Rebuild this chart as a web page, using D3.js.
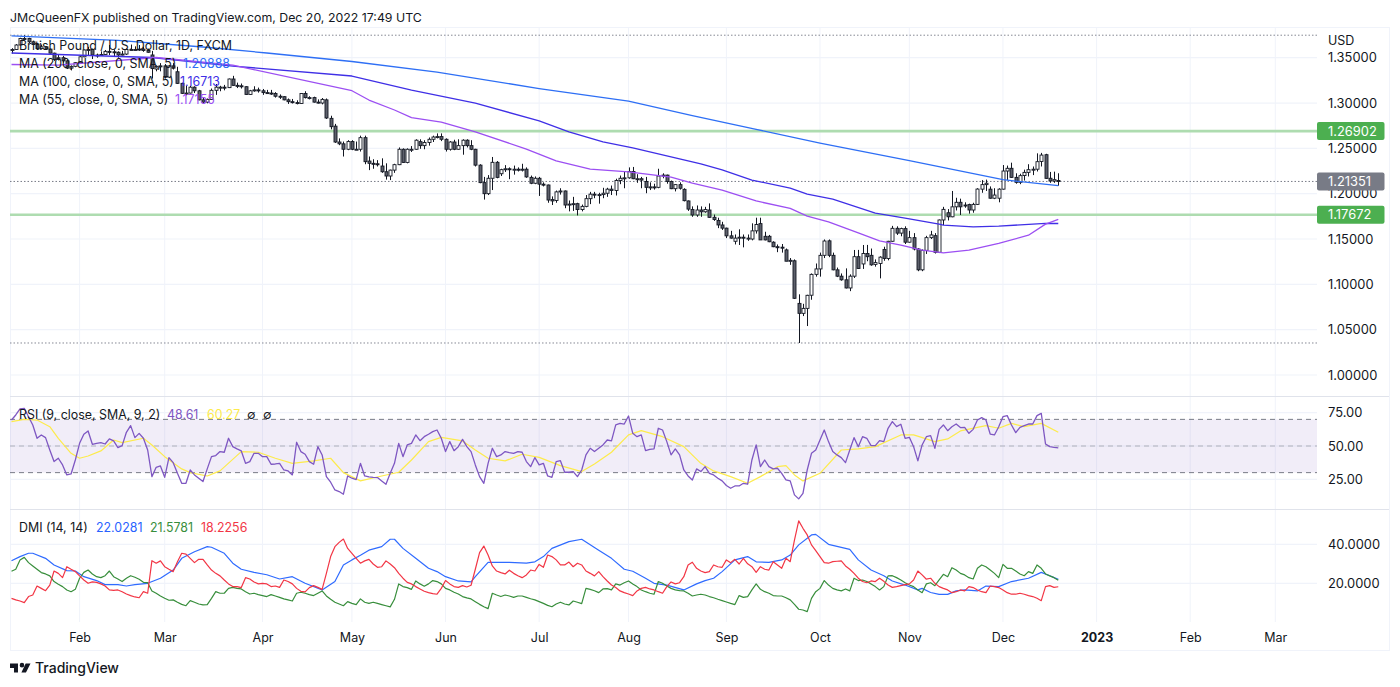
<!DOCTYPE html>
<html><head><meta charset="utf-8">
<script src="https://d3js.org/d3.v7.min.js"></script>
<style>html,body{margin:0;padding:0;background:#fff}svg{display:block}text{font-family:Inter,"Noto Sans",sans-serif}</style>
</head><body><svg id="c" width="1400" height="687"></svg>
<script>
const opens=[
1.3585,1.3590,1.3640,1.3712,1.3712,1.3675,1.3645,1.3600,1.3620,1.3595,
1.3550,1.3480,1.3500,1.3465,1.3385,1.3405,1.3445,1.3510,1.3585,1.3590,
1.3530,1.3530,1.3535,1.3570,1.3565,1.3560,1.3530,1.3540,1.3590,1.3590,
1.3590,1.3595,1.3580,1.3530,1.3375,1.3405,1.3410,1.3285,1.3410,1.3345,
1.3217,1.3107,1.3110,1.3175,1.3135,1.3035,1.3010,1.3040,1.3140,1.3175,
1.3175,1.3170,1.3265,1.3195,1.3190,1.3180,1.3095,1.3135,1.3145,1.3135,
1.3115,1.3110,1.3105,1.3075,1.3070,1.3035,1.3015,1.3005,1.2995,1.3105,
1.3060,1.3060,1.3010,1.3000,1.3035,1.2831,1.2745,1.2570,1.2550,1.2490,
1.2575,1.2490,1.2490,1.2618,1.2360,1.2335,1.2330,1.2305,1.2242,1.2195,
1.2260,1.2320,1.2490,1.2345,1.2490,1.2490,1.2574,1.2530,1.2565,1.2600,
1.2625,1.2630,1.2600,1.2490,1.2570,1.2490,1.2530,1.2590,1.2530,1.2490,
1.2315,1.2122,1.2000,1.2170,1.2346,1.2220,1.2265,1.2275,1.2265,1.2270,
1.2265,1.2270,1.2180,1.2115,1.2170,1.2105,1.2096,1.1935,1.1925,1.2020,
1.2030,1.1875,1.1885,1.1890,1.1825,1.1860,1.1945,1.1995,1.1985,1.1990,
1.2005,1.2050,1.2035,1.2145,1.2170,1.2175,1.2245,1.2165,1.2165,1.2135,
1.2070,1.2075,1.2070,1.2195,1.2205,1.2135,1.2055,1.2100,1.2048,1.1920,
1.1825,1.1765,1.1820,1.1800,1.1820,1.1740,1.1705,1.1655,1.1620,1.1535,
1.1475,1.1510,1.1520,1.1510,1.1500,1.1590,1.1670,1.1530,1.1530,1.1465,
1.1415,1.1410,1.1380,1.1255,1.1260,1.0790,1.0680,1.0735,1.0880,1.1110,
1.1170,1.1320,1.1480,1.1320,1.1160,1.1090,1.1050,1.0960,1.1090,1.1305,
1.1225,1.1340,1.1320,1.1220,1.1230,1.1385,1.1285,1.1475,1.1618,1.1565,
1.1615,1.1465,1.1515,1.1390,1.1160,1.1375,1.1515,1.1537,1.1353,1.1710,
1.1790,1.1745,1.1855,1.1905,1.1875,1.1880,1.1820,1.1882,1.2050,1.2100,
1.2050,1.1950,1.1950,1.2050,1.2250,1.2280,1.2180,1.2125,1.2200,1.2235,
1.2265,1.2270,1.2355,1.2430,1.2170,1.2140,1.2145];
const highs=[
1.3605,1.3650,1.3720,1.3748,1.3720,1.3685,1.3655,1.3645,1.3625,1.3600,
1.3555,1.3530,1.3520,1.3480,1.3415,1.3450,1.3520,1.3590,1.3620,1.3600,
1.3545,1.3570,1.3585,1.3640,1.3590,1.3570,1.3575,1.3600,1.3645,1.3625,
1.3640,1.3620,1.3600,1.3575,1.3415,1.3440,1.3430,1.3420,1.3440,1.3400,
1.3225,1.3190,1.3190,1.3185,1.3145,1.3065,1.3050,1.3160,1.3210,1.3190,
1.3200,1.3270,1.3300,1.3225,1.3215,1.3185,1.3145,1.3185,1.3170,1.3155,
1.3145,1.3145,1.3120,1.3095,1.3075,1.3050,1.3045,1.3030,1.3110,1.3130,
1.3075,1.3070,1.3040,1.3055,1.3050,1.2860,1.2770,1.2610,1.2575,1.2590,
1.2590,1.2575,1.2640,1.2640,1.2410,1.2380,1.2370,1.2390,1.2335,1.2265,
1.2330,1.2510,1.2500,1.2500,1.2525,1.2600,1.2600,1.2590,1.2620,1.2640,
1.2665,1.2665,1.2610,1.2580,1.2595,1.2600,1.2600,1.2600,1.2590,1.2495,
1.2325,1.2185,1.2205,1.2405,1.2360,1.2275,1.2315,1.2290,1.2310,1.2290,
1.2330,1.2290,1.2200,1.2190,1.2185,1.2125,1.2100,1.1970,1.2035,1.2060,
1.2035,1.1925,1.1965,1.1900,1.1880,1.1985,1.2020,1.2020,1.2010,1.2065,
1.2065,1.2090,1.2165,1.2200,1.2245,1.2290,1.2295,1.2215,1.2185,1.2185,
1.2125,1.2110,1.2275,1.2225,1.2210,1.2145,1.2105,1.2125,1.2060,1.1925,
1.1860,1.1870,1.1860,1.1855,1.1893,1.1770,1.1735,1.1690,1.1625,1.1590,
1.1550,1.1607,1.1550,1.1550,1.1673,1.1735,1.1735,1.1580,1.1545,1.1475,
1.1440,1.1445,1.1395,1.1290,1.1275,1.0890,1.0785,1.0885,1.1120,1.1230,
1.1350,1.1495,1.1495,1.1350,1.1185,1.1120,1.1176,1.1110,1.1379,1.1380,
1.1434,1.1435,1.1395,1.1275,1.1310,1.1415,1.1480,1.1645,1.1640,1.1625,
1.1640,1.1590,1.1565,1.1400,1.1385,1.1535,1.1590,1.1565,1.1715,1.1855,
1.1830,1.2030,1.1955,1.1945,1.1905,1.1890,1.1900,1.2060,1.2150,1.2155,
1.2080,1.2060,1.2060,1.2316,1.2310,1.2342,1.2225,1.2220,1.2265,1.2325,
1.2300,1.2445,1.2450,1.2440,1.2240,1.2243,1.2225];
const lows=[
1.3545,1.3585,1.3635,1.3690,1.3660,1.3640,1.3590,1.3590,1.3585,1.3545,
1.3465,1.3470,1.3445,1.3375,1.3360,1.3395,1.3440,1.3505,1.3530,1.3485,
1.3500,1.3520,1.3530,1.3530,1.3515,1.3500,1.3525,1.3530,1.3580,1.3580,
1.3575,1.3565,1.3555,1.3270,1.3350,1.3350,1.3270,1.3275,1.3370,1.3210,
1.3100,1.3085,1.3105,1.3110,1.3030,1.3000,1.2997,1.3035,1.3090,1.3130,
1.3140,1.3165,1.3190,1.3165,1.3160,1.3090,1.3090,1.3125,1.3115,1.3090,
1.3105,1.3090,1.3060,1.3045,1.3030,1.2990,1.2995,1.2985,1.2990,1.3050,
1.3040,1.3005,1.2995,1.2985,1.2825,1.2710,1.2560,1.2535,1.2410,1.2480,
1.2480,1.2485,1.2465,1.2325,1.2260,1.2275,1.2300,1.2230,1.2155,1.2150,
1.2230,1.2315,1.2340,1.2335,1.2460,1.2485,1.2495,1.2490,1.2530,1.2570,
1.2610,1.2580,1.2465,1.2475,1.2480,1.2485,1.2430,1.2510,1.2480,1.2300,
1.2115,1.1935,1.1985,1.2040,1.2170,1.2195,1.2240,1.2160,1.2210,1.2245,
1.2245,1.2175,1.2105,1.2105,1.1975,1.2080,1.1900,1.1875,1.1900,1.1990,
1.1840,1.1805,1.1810,1.1760,1.1805,1.1850,1.1885,1.1950,1.1890,1.1950,
1.1965,1.1985,1.1980,1.2105,1.2060,1.2165,1.2160,1.2120,1.2060,1.2005,
1.2040,1.2045,1.2060,1.2170,1.2110,1.2050,1.2025,1.2045,1.1915,1.1810,
1.1745,1.1745,1.1745,1.1790,1.1735,1.1700,1.1620,1.1600,1.1510,1.1505,
1.1440,1.1434,1.1408,1.1480,1.1485,1.1560,1.1490,1.1485,1.1465,1.1410,
1.1355,1.1350,1.1255,1.1215,1.0838,1.0353,1.0650,1.0540,1.0830,1.1085,
1.1085,1.1290,1.1300,1.1155,1.1080,1.1040,1.0955,1.0925,1.1070,1.1170,
1.1170,1.1255,1.1205,1.1195,1.1066,1.1260,1.1265,1.1470,1.1545,1.1530,
1.1445,1.1460,1.1375,1.1145,1.1145,1.1335,1.1500,1.1340,1.1345,1.1654,
1.1705,1.1740,1.1815,1.1765,1.1845,1.1780,1.1790,1.1875,1.2010,1.2030,
1.1945,1.1940,1.1905,1.2045,1.2151,1.2175,1.2110,1.2105,1.2145,1.2190,
1.2205,1.2245,1.2300,1.2165,1.2120,1.2120,1.2088];
const closes=[
1.3590,1.3640,1.3712,1.3712,1.3675,1.3645,1.3600,1.3620,1.3595,1.3550,
1.3480,1.3500,1.3465,1.3385,1.3405,1.3445,1.3510,1.3585,1.3590,1.3530,
1.3530,1.3535,1.3570,1.3565,1.3560,1.3530,1.3540,1.3590,1.3590,1.3590,
1.3595,1.3580,1.3560,1.3380,1.3405,1.3410,1.3285,1.3410,1.3385,1.3217,
1.3107,1.3110,1.3175,1.3135,1.3035,1.3010,1.3040,1.3140,1.3175,1.3175,
1.3170,1.3265,1.3195,1.3190,1.3180,1.3095,1.3135,1.3145,1.3135,1.3115,
1.3110,1.3105,1.3075,1.3070,1.3035,1.3015,1.3005,1.3000,1.3105,1.3060,
1.3060,1.3010,1.3000,1.3040,1.2835,1.2739,1.2570,1.2550,1.2490,1.2575,
1.2490,1.2490,1.2618,1.2353,1.2335,1.2330,1.2320,1.2242,1.2195,1.2260,
1.2320,1.2490,1.2345,1.2490,1.2490,1.2590,1.2530,1.2565,1.2600,1.2625,
1.2630,1.2600,1.2490,1.2570,1.2490,1.2530,1.2590,1.2530,1.2490,1.2315,
1.2122,1.2000,1.2170,1.2346,1.2180,1.2265,1.2275,1.2265,1.2270,1.2265,
1.2270,1.2185,1.2115,1.2170,1.2105,1.2095,1.1930,1.1920,1.2020,1.2030,
1.1875,1.1885,1.1890,1.1825,1.1860,1.1945,1.1995,1.1985,1.1990,1.2005,
1.2050,1.2035,1.2145,1.2170,1.2175,1.2245,1.2165,1.2165,1.2150,1.2070,
1.2075,1.2070,1.2195,1.2205,1.2135,1.2055,1.2100,1.2060,1.1923,1.1830,
1.1765,1.1820,1.1800,1.1825,1.1739,1.1715,1.1655,1.1620,1.1535,1.1510,
1.1510,1.1520,1.1510,1.1510,1.1590,1.1660,1.1490,1.1490,1.1470,1.1415,
1.1410,1.1405,1.1255,1.1265,1.0846,1.0680,1.0735,1.0879,1.1110,1.1170,
1.1320,1.1478,1.1320,1.1160,1.1090,1.1050,1.0960,1.1090,1.1305,1.1175,
1.1340,1.1305,1.1215,1.1240,1.1300,1.1285,1.1475,1.1618,1.1565,1.1615,
1.1465,1.1515,1.1390,1.1160,1.1375,1.1515,1.1545,1.1353,1.1710,1.1827,
1.1745,1.1855,1.1905,1.1855,1.1870,1.1820,1.1882,1.2051,1.2100,1.2115,
1.1950,1.1985,1.2050,1.2250,1.2280,1.2180,1.2125,1.2199,1.2235,1.2265,
1.2270,1.2353,1.2426,1.2169,1.2140,1.2155,1.2135];

const ma200Bars=[0,25,45,60,80,100,124,145,160,175,190,211,233,246];
const ma200Vals=[1.3740,1.3690,1.3618,1.3552,1.3458,1.3342,1.3160,1.3022,1.2860,1.2710,1.2558,1.2365,1.2155,1.2088];
const ma100Bars=[0,33,52,80,94,109,124,131,139,146,162,167,174,183,187,193,203,210,218,219,226,232,243,246];
const ma100Vals=[1.3552,1.3502,1.3408,1.3298,1.3143,1.3000,1.2802,1.2681,1.2571,1.2505,1.2328,1.2262,1.2150,1.2062,1.1996,1.1940,1.1786,1.1731,1.1664,1.1653,1.1634,1.1642,1.1672,1.1671];
const ma55Bars=[0,11,34,52,80,84,90,94,101,109,121,128,136,145,155,160,167,175,183,187,192,199,204,209,214,219,225,232,239,243,246];
const ma55Vals=[1.3425,1.3419,1.3502,1.3419,1.3136,1.3033,1.2923,1.2838,1.2790,1.2683,1.2492,1.2363,1.2271,1.2241,1.2183,1.2116,1.2039,1.1920,1.1838,1.1752,1.1689,1.1568,1.1479,1.1432,1.1377,1.1347,1.1377,1.1451,1.1542,1.1664,1.1716];

const rsi=[69.5,73.3,77.8,78.3,72,65.8,55.8,58.3,56.3,47,38.3,40.8,35.8,28.3,29,39.5,52,58.8,61.3,51.3,52,52.5,51.5,55.3,53.8,48.8,50.3,60.3,65.3,56.3,59.5,55.8,47,27,34,35,26.5,41.3,37.5,29.5,22,22,32,28.3,25.8,23.3,32.8,42,42.8,45.8,45.3,55.8,49.5,47.8,46.3,37,38.3,44.5,44.5,42,42,36.3,36.5,37,32,31.3,28.3,52.8,45.8,43.8,38.3,36.3,49.5,43.3,27,22.8,17,15.8,13.8,27.5,25.8,24.8,37,
27.5,26.8,26.5,26.3,23.8,21.3,29.5,37,52,42,50.8,52,58.3,54,57,58.8,60.8,62,55.8,45.8,53.3,46.5,49.5,55,49.5,45.8,35.8,27,22,37,48.3,42,43.3,45.8,45,44.5,45.8,45.3,38.3,34.5,41.3,35.8,37,27.5,26.5,38.3,39,30.3,30.3,30.8,27,32,43.3,48.3,45.8,48.3,50.8,54.5,53.8,65.8,67,66.5,72.5,59.5,57,58.3,46.5,47.5,47.8,63.3,62,53.3,43.3,47.8,43.3,32,27.5,24.5,32.8,30.8,34.5,29.5,
28.3,25.8,23.8,20.3,18.3,20,20,22,21.3,39.5,50.8,34.5,39.5,34.5,32.8,33.3,29.5,24.5,23.8,13.3,10.3,14.5,32,44.5,47,54.5,62,53.3,45.8,43.3,41.3,37.5,47,56.3,49.5,57,55.8,50.3,50.3,54,53.3,63.3,68.3,64.5,66.3,55.8,56.5,49.5,38.8,50.8,57,57.8,48.3,62.5,65.8,61.5,64.5,66.5,63.8,64,59.5,62.5,69.5,71.3,69.5,59,58.3,64.5,72,72.8,65.8,60,64,65.3,66.5,66.5,72.8,74.5,51.5,49.5,49,48.61];
const rsiMaBars=[0,3,6,9,11,14,16,18,21,24,26,31,33,36,40,42,46,49,54,58,62,66,71,75,78,82,87,91,94,98,101,106,109,112,116,120,124,129,134,137,141,145,148,153,158,162,165,169,173,176,180,182,184,186,190,195,199,203,209,212,217,220,223,229,232,235,238,242,246];
const rsiMaVals=[68.3,70,69.5,64.5,55.8,44.5,40.8,42.5,46.3,54.5,52.5,55.8,50.8,42,32.8,30,27.5,31.3,45.8,45.3,40.8,37,38.8,40.8,30,23.8,27.5,30.3,39.5,53.3,56.5,53.8,47,40.8,38.8,43.8,41.5,35.3,30.8,36.5,45.3,58.3,61.5,57,49.5,37,31.3,27,22,27,34.5,35.3,28.3,23.8,29.5,47,47.8,49.5,58.3,58.3,53.3,55.3,61.3,65.3,63.3,67,64.5,67,60.27];

const dmiBlueBars=[0,2,4,5,8,10,13,15,17,20,22,25,27,29,32,35,38,40,43,46,47,50,52,54,57,60,63,66,69,73,76,78,80,82,84,87,89,90,92,95,98,100,102,105,108,109,112,117,121,123,125,127,131,134,138,141,144,146,149,151,154,158,161,163,165,167,170,173,175,178,181,183,185,188,189,192,197,199,202,205,207,210,213,214,216,218,220,222,224,227,229,232,235,239,242,244,246];
const dmiBlueVals=[31.6,33.7,35.4,35.4,32.8,29.4,26.5,26.3,23.4,21.4,19.3,19.3,18.6,19.3,20,22.6,26.8,32.8,36.2,38.8,38.5,35.4,30.3,27.2,25.6,24.4,22.2,23.4,20,16.6,20.9,29.4,32,34.4,37,38.8,42.6,42.6,37.9,32.8,27.7,26,23.4,21.2,20.7,23.4,30.7,30.7,30.3,31,33.7,37.9,41.4,42.6,37,32.8,27.2,26.2,22.6,20,19.1,16.6,19.7,21.4,22.6,26,32,33.7,31,30.7,32,34.5,39.7,44.8,45.1,40,37.4,32,26.8,23.9,21.2,19.1,16.6,17.4,15.3,14.3,14.3,16.1,16.6,16.1,18.6,18.3,20.9,22.6,25.6,23.9,22.03];
const dmiRed=[12.3,11.5,10.9,10.1,13.2,14,18.6,17.4,16.2,19.1,26.3,25.1,22.9,28.5,27.2,26,23.8,21.7,20,20.7,20.5,19.7,18.6,16.6,16.4,16.6,15.7,14.5,13.7,13,12.6,15.7,14.9,31.6,30.3,31.5,28.5,27.2,26,31.1,35.4,35,32.8,30.6,32.3,32.3,29.4,26.8,25.1,23.8,21.7,19.7,18.3,18.3,17.8,22.9,22.2,20.7,19.7,20,19.7,18.3,18.6,17.9,21.7,20.9,19.7,17.4,15.9,15.6,17.8,18.8,17.9,16.9,25.1,33.7,38.8,41,42.7,37.9,35.4,32.8,30.3,
31.5,32.3,29.9,28.2,28.5,31.5,29.9,28,25.1,22.6,20.5,19.7,18.3,17.1,15.9,15.2,14.7,14.4,17.4,21.4,19.7,18.3,17.9,18.8,18.1,19,27.2,35.7,39.1,34.5,28.9,26.3,25.5,24.8,26.7,25.1,23.9,22.9,24.3,26.8,26.3,29.7,28.2,34.5,33.7,32,29.4,29.4,30.9,28.5,30.3,29.4,26.3,25.1,23.8,26,23.4,21.2,19.1,17.8,16.1,15.2,14.5,13.7,16.1,17.4,17.9,17.1,16.6,15.7,14.9,18.3,20.7,19.7,20.3,23.4,29.4,30.8,27.7,26.3,25.5,26,
29.4,28.5,28.2,32,30.6,32.3,29.9,32.8,30,28.5,25.6,28.5,27.2,26.8,31.1,29.4,27.7,32.8,31.1,42.2,52,48.2,44.8,39.7,36.8,33.7,30.6,30.3,31.1,31.3,31.5,28.9,27.2,25.1,22.6,20.9,20.3,21.2,20.9,22.6,21,19.1,17.9,18.3,18.8,19.3,19.7,21.7,26.3,24.3,22.1,22.6,20,18.3,17.4,16.6,15.2,15.7,16.6,16.1,18.3,17.8,16.6,15.7,15.2,18.6,18.3,17.8,16.6,15.2,14.4,14.4,14.9,14.4,13.7,13.2,12.3,11.1,18.3,18.8,17.9,18.23];
const dmiGreen=[26.2,27.2,32,33.3,30.6,28.9,27.2,25.5,24.8,23.8,20.9,19.5,18.3,16.6,15.7,16.9,22.6,25.6,26.8,24.8,23.4,22.9,23.9,26.3,23.4,22.2,20.9,22.6,23.9,23.1,22.1,20.5,20.3,16.1,14.9,13.5,12.3,11.3,11.5,10.3,9.2,8.5,11.1,10.3,9.4,8.9,9.1,12.3,15.7,14.9,14.9,17.4,17.9,17.4,17.1,15.7,14.5,14.9,14.2,13.7,13.2,14.2,13.5,12.8,12,11.5,10.9,14.9,15.4,14.9,14.2,13.7,14.9,16.1,13.5,11.8,10.3,9.4,8.5,10.6,9.7,9.1,12,
10.3,9.7,10.3,9.7,9.1,8.5,7.9,11.8,19.7,18.3,17.8,16.9,21.2,19.7,18.5,19.7,21.4,20.9,19.7,17.4,16.6,15.4,14.5,13.2,12.5,12,10.6,9.2,8,7,14.9,14,13.2,14,13.5,12.8,13.5,13.5,12.8,12.1,11.5,10.6,9.7,8.7,8,9.4,10.3,9.4,8.9,10.9,10.3,9.6,17.4,16.9,16.2,15.2,17.1,17.3,16.6,19.7,19.1,20.3,21.2,19.7,18.3,16.6,15.7,14.9,14.4,20.9,20,18.6,17.4,16.6,16.2,16.1,14.9,13.5,14,14.4,14,13.2,
12.6,11.8,11.1,10.4,9.7,9.1,13.7,12.8,13.2,16.6,19.7,16.9,15.7,14.9,13.7,13.5,13.5,12.6,11.5,9.2,6.7,6.3,5.5,12.3,15.7,17.4,21.4,19.1,17.4,16.6,16.1,17.1,16.1,22.6,21.4,21.7,20.9,19.7,18.3,16.6,18.3,23.8,23.9,22.9,21.7,20.3,19.1,18.3,16.6,15.2,19.7,20.3,18.8,21.7,24.6,23.4,28,26.8,25.1,24.3,22.9,22.2,27.7,29.4,28.5,26.8,25.1,22.9,29.7,27.7,27.7,26.3,24.8,23.9,26,25.1,29.4,27.7,24.8,23.8,22.9,21.58];

const priceTicks=[1.35,1.30,1.25,1.20,1.15,1.10,1.05,1.00];
const rsiTicks=[75,50,25];
const rsiBands=[70,50,30];
const dmiTicks=[40,20];
const levels=[1.26902,1.17672];
const lastPrice=1.21351;
const extremes=[1.3748,1.0353];
const monthBars=[16,36,59,80,102,124,145,168,190,211,233,255,277,297];
const monthLabels=["Feb","Mar","Apr","May","Jun","Jul","Aug","Sep","Oct","Nov","Dec","2023","Feb","Mar"];

const INK="#131722",GRID="#f0f3fa",SEP="#e0e3eb";
const BLUE="#2e6ff5",INDIGO="#3f2fe6",PURPLE="#9c4ff2",RSIC="#7e57c2",YEL="#fdeb4b";
const DBLUE="#2962ff",DGREEN="#388e3c",DRED="#f23645";
const L=10,R=1317,FR=1389;
const svg=d3.select("#c");
const x=d3.scaleLinear().domain([-0.353,306.8]).range([L,R]);
const yP=d3.scaleLinear().domain([1,1.35]).range([375,57.7]);
const yR=d3.scaleLinear().domain([25,75]).range([479.3,412.7]);
const yD=d3.scaleLinear().domain([20,40]).range([583.3,544.3]);
const hline=(g,vals,scale,attrs)=>{const s=g.selectAll(null).data(vals).join("line").attr("x1",L).attr("x2",R).attr("y1",d=>scale(d)).attr("y2",d=>scale(d));Object.entries(attrs).forEach(([k,v])=>s.attr(k,v));return s};

// frame
svg.append("rect").attr("x",L+.5).attr("y",27.5).attr("width",FR-L).attr("height",623).attr("fill","#fff").attr("stroke",GRID);
const grid=svg.append("g");
grid.selectAll(null).data(monthBars).join("line").attr("x1",d=>x(d)).attr("x2",d=>x(d)).attr("y1",28).attr("y2",622).attr("stroke",GRID);
hline(grid,priceTicks,yP,{stroke:GRID,"stroke-width":1.2});
hline(grid,rsiTicks,yR,{stroke:GRID,"stroke-width":1.2});
hline(grid,dmiTicks,yD,{stroke:GRID,"stroke-width":1.2});
svg.append("g").selectAll(null).data([396.5,509.5]).join("line").attr("x1",L).attr("x2",FR).attr("y1",d=>d).attr("y2",d=>d).attr("stroke",SEP).attr("stroke-width",1.2);

// price overlays
hline(svg.append("g"),levels,yP,{stroke:"#aedcb0","stroke-width":2.6});
hline(svg.append("g"),extremes,yP,{stroke:"#868994","stroke-width":1,"stroke-dasharray":"1.5 2"});
hline(svg.append("g"),[lastPrice],yP,{stroke:"#787b86","stroke-width":1,"stroke-dasharray":"1.5 2"});

// candles
const bars=d3.range(closes.length);
const cg=svg.append("g");
cg.selectAll(null).data(bars).join("line").attr("x1",i=>Math.round(x(i))+.5).attr("x2",i=>Math.round(x(i))+.5)
  .attr("y1",i=>yP(highs[i])).attr("y2",i=>yP(lows[i])).attr("stroke",INK).attr("stroke-width",1);
cg.selectAll(null).data(bars).join("rect").attr("x",i=>Math.round(x(i))-1).attr("width",3)
  .attr("y",i=>yP(Math.max(opens[i],closes[i]))).attr("height",i=>Math.max(1,Math.abs(yP(opens[i])-yP(closes[i]))))
  .attr("fill",i=>closes[i]>=opens[i]?"#fff":"#5d606b").attr("stroke",INK).attr("stroke-width",.9);

// lines
const drawSparse=(xs,ys,scale,color,w)=>svg.append("path").attr("d",d3.line().x(d=>x(d[0])).y(d=>scale(d[1]))(d3.zip(xs,ys))).attr("fill","none").attr("stroke",color).attr("stroke-width",w).attr("stroke-linejoin","round");
drawSparse(ma200Bars,ma200Vals,yP,BLUE,1.3);
drawSparse(ma100Bars,ma100Vals,yP,INDIGO,1.3);
drawSparse(ma55Bars,ma55Vals,yP,PURPLE,1.3);

// RSI
svg.append("rect").attr("x",L).attr("width",R-L).attr("y",yR(70)).attr("height",yR(30)-yR(70)).attr("fill","#7e57c2").attr("fill-opacity",.11);
hline(svg.append("g"),rsiBands,yR,{stroke:"#787b86","stroke-dasharray":"5 4","stroke-width":1}).attr("stroke-opacity",d=>d===50?.5:1);
const drawFull=(ys,scale,color,w)=>svg.append("path").attr("d",d3.line().x((d,i)=>x(i)).y(d=>scale(d))(ys)).attr("fill","none").attr("stroke",color).attr("stroke-width",w).attr("stroke-linejoin","round");
drawSparse(rsiMaBars,rsiMaVals,yR,YEL,1.2);
drawFull(rsi,yR,RSIC,1.3);

// DMI
drawSparse(dmiBlueBars,dmiBlueVals,yD,"#2f6bff",1.2);
drawFull(dmiGreen,yD,DGREEN,1.2);
drawFull(dmiRed,yD,DRED,1.2);

// axes
const AX=12.9;
const fmtAxis=g=>{g.select(".domain").remove();g.selectAll("line").remove();g.selectAll("text").attr("font-family",'Inter,"Noto Sans",sans-serif').attr("font-size",AX).attr("fill",INK)};
const tagsTop=[...levels,lastPrice];
svg.append("g").attr("transform",`translate(${R},0)`).call(d3.axisRight(yP).tickValues(priceTicks).tickSize(0).tickPadding(11).tickFormat(d3.format(".5f"))).call(fmtAxis);
svg.append("g").attr("transform",`translate(${R},0)`).call(d3.axisRight(yR).tickValues(rsiTicks).tickSize(0).tickPadding(11).tickFormat(d3.format(".2f"))).call(fmtAxis);
svg.append("g").attr("transform",`translate(${R},0)`).call(d3.axisRight(yD).tickValues(dmiTicks).tickSize(0).tickPadding(11).tickFormat(d3.format(".4f"))).call(fmtAxis);
const xa=svg.append("g").attr("transform","translate(0,630)").call(d3.axisBottom(x).tickValues(monthBars).tickSize(0).tickPadding(3).tickFormat((d,i)=>monthLabels[i])).call(fmtAxis);
xa.selectAll("text").attr("font-size",12.5).attr("font-weight",(d,i)=>monthLabels[i]==="2023"?700:400);

// tags
const tagColor=d=>d===lastPrice?"#787b86":"#4caf50";
const tg=svg.append("g").selectAll(null).data(tagsTop).join("g").attr("transform",d=>`translate(${R},${yP(d)})`);
tg.append("rect").attr("y",-9).attr("width",67.5).attr("height",18).attr("rx",2).attr("fill",tagColor);
tg.append("text").attr("x",11).attr("dy",".35em").attr("fill","#fff").attr("font-size",AX).text(d=>d.toFixed(5));
svg.append("text").attr("x",1328).attr("y",41).attr("dy",".35em").attr("font-size",12.5).attr("fill",INK).text("USD");

// legends
const T=(xp,yp,s,c=INK,sz=12.4,w=400)=>svg.append("text").attr("x",xp).attr("y",yp).attr("dy",".35em").attr("fill",c).attr("font-size",sz).attr("font-weight",w).text(s);
T(10,18,"JMcQueenFX published on TradingView.com, Dec 20, 2022 17:49 UTC",INK,12.35);
T(19,46,"British Pound / U.S. Dollar, 1D, FXCM");
T(19,64,"MA (200, close, 0, SMA, 5)");T(183,64,"1.20888",BLUE);
T(19,82,"MA (100, close, 0, SMA, 5)");T(180,82,"1.16713",INDIGO);
T(19,100,"MA (55, close, 0, SMA, 5)");T(175,100,"1.17155",PURPLE);
T(19,415,"RSI (9, close, SMA, 9, 2)");T(167,415,"48.61",RSIC);T(207,415,"60.27",YEL);T(247,415,"∅",INK);T(263,415,"∅",INK);
T(19,528,"DMI (14, 14)");T(96,528,"22.0281",DBLUE);T(150,528,"21.5781",DGREEN);T(201,528,"18.2256",DRED);
svg.append("path").attr("transform","translate(10,660) scale(.57)").attr("fill",INK).attr("d","M14 6H0v8h7v8h7V6Zm14 16h-8l7.5-16H36l-8 16Zm-7-9a4 4 0 1 0 0-8 4 4 0 0 0 0 8Z");
T(35,668.5,"TradingView",INK,14,500);
</script></body></html>
